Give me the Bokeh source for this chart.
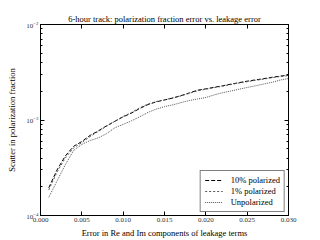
from bokeh.plotting import figure
from bokeh.models import (FixedTicker, PrintfTickFormatter, LogAxis, LinearAxis,
                          LogTickFormatter, Legend, LegendItem, ColumnDataSource,
                          CustomJSTickFormatter)
from bokeh.embed import file_html
from bokeh.resources import INLINE

# Data
leak_err = [0.001, 0.002, 0.003, 0.004, 0.005, 0.006, 0.007, 0.008, 0.009, 0.010,
            0.011, 0.012, 0.013, 0.014, 0.015, 0.016, 0.017, 0.018, 0.019, 0.020,
            0.021, 0.022, 0.023, 0.024, 0.025, 0.026, 0.027, 0.028, 0.029, 0.030]
pol10 = [1.95e-4, 3.0e-4, 4.2e-4, 5.3e-4, 5.95e-4, 6.9e-4, 7.7e-4, 8.7e-4, 9.7e-4, 1.08e-3,
         1.18e-3, 1.32e-3, 1.45e-3, 1.55e-3, 1.62e-3, 1.70e-3, 1.80e-3, 1.92e-3, 2.05e-3, 2.12e-3,
         2.20e-3, 2.28e-3, 2.37e-3, 2.46e-3, 2.55e-3, 2.63e-3, 2.71e-3, 2.80e-3, 2.88e-3, 2.95e-3]
pol1 = [1.85e-4, 2.85e-4, 4.0e-4, 5.1e-4, 5.8e-4, 6.7e-4, 7.6e-4, 8.6e-4, 9.7e-4, 1.09e-3,
        1.20e-3, 1.34e-3, 1.47e-3, 1.56e-3, 1.63e-3, 1.70e-3, 1.79e-3, 1.90e-3, 2.02e-3, 2.10e-3,
        2.18e-3, 2.26e-3, 2.35e-3, 2.44e-3, 2.52e-3, 2.60e-3, 2.68e-3, 2.77e-3, 2.85e-3, 2.92e-3]
unpol = [1.55e-4, 2.3e-4, 3.4e-4, 4.8e-4, 5.55e-4, 6.1e-4, 6.5e-4, 7.2e-4, 8.3e-4, 9.0e-4,
         9.8e-4, 1.08e-3, 1.20e-3, 1.30e-3, 1.38e-3, 1.44e-3, 1.52e-3, 1.60e-3, 1.66e-3, 1.72e-3,
         1.83e-3, 1.93e-3, 2.01e-3, 2.10e-3, 2.19e-3, 2.28e-3, 2.38e-3, 2.48e-3, 2.62e-3, 2.72e-3]
series_labels = ["10% polarized", "1% polarized", "Unpolarized"]
x_ticks = [0.000, 0.005, 0.010, 0.015, 0.020, 0.025, 0.030]
y_ticks = [1e-4, 1e-3, 1e-2]
y_minor = [m * 1e-4 for m in range(2, 10)] + [m * 1e-3 for m in range(2, 10)]

FONT = "Liberation Serif"

p = figure(width=320, height=240, y_axis_type="log",
           x_range=(0.0, 0.03), y_range=(1e-4, 1e-2),
           output_backend="svg", toolbar_location=None,
           min_border_left=40, min_border_right=32, min_border_top=24, min_border_bottom=25,
           title="6-hour track: polarization fraction error vs. leakage error")
p.title.text_font = FONT
p.title.text_font_size = "8.5px"
p.title.text_font_style = "normal"
p.title.text_color = "black"
p.title.align = "center"
p.title.offset = 0
p.title.standoff = 2

p.grid.visible = False
p.outline_line_color = "black"
p.background_fill_color = "white"
p.border_fill_color = "white"

src = ColumnDataSource(dict(x=leak_err, a=pol10, b=pol1, c=unpol))
r1 = p.line("x", "a", source=src, line_color="black", line_width=1, line_dash="4 2")
r2 = p.line("x", "b", source=src, line_color="#555555", line_width=1, line_dash="2 2")
r3 = p.line("x", "c", source=src, line_color="#555555", line_width=1, line_dash="1 1")

xt = FixedTicker(ticks=x_ticks, minor_ticks=[])
yt = FixedTicker(ticks=y_ticks, minor_ticks=y_minor)

def style(ax):
    ax.axis_line_color = "black"
    ax.major_tick_line_color = "black"
    ax.minor_tick_line_color = "black"
    ax.major_tick_in = 4
    ax.major_tick_out = 0
    ax.minor_tick_in = 2
    ax.minor_tick_out = 0
    ax.major_label_text_font = FONT
    ax.major_label_text_font_size = "7px"
    ax.major_label_text_color = "#333333"
    ax.axis_label_text_font = FONT
    ax.axis_label_text_font_size = "8.5px"
    ax.axis_label_text_font_style = "normal"
    ax.axis_label_text_color = "black"
    ax.major_label_standoff = 2

xa = p.xaxis[0]
xa.ticker = xt
xa.formatter = PrintfTickFormatter(format="%.3f")
xa.axis_label = "Error in Re and Im components of leakage terms"
xa.axis_label_standoff = 3
style(xa)

ya = p.yaxis[0]
ya.ticker = yt
ya.formatter = LogTickFormatter()
ya.axis_label = "Scatter in polarization fraction"
ya.axis_label_standoff = 6
style(ya)

blank = CustomJSTickFormatter(code="return ''")

top = LinearAxis(ticker=xt, formatter=blank)
style(top)
top.major_label_standoff = 0
p.add_layout(top, "above")

right = LogAxis(ticker=yt, formatter=blank)
style(right)
right.major_label_standoff = 0
p.add_layout(right, "right")

legend = Legend(items=[LegendItem(label=series_labels[0], renderers=[r1]),
                       LegendItem(label=series_labels[1], renderers=[r2]),
                       LegendItem(label=series_labels[2], renderers=[r3])],
                location="bottom_right")
legend.label_text_font = FONT
legend.label_text_font_size = "8.5px"
legend.label_text_color = "black"
legend.glyph_width = 18
legend.glyph_height = 10
legend.label_height = 10
legend.label_standoff = 8
legend.spacing = 1
legend.padding = 4
legend.margin = 3
legend.border_line_color = "black"
legend.border_line_width = 1
legend.background_fill_alpha = 1.0
p.add_layout(legend, "center")

open("out.html", "w").write(file_html(p, INLINE))
